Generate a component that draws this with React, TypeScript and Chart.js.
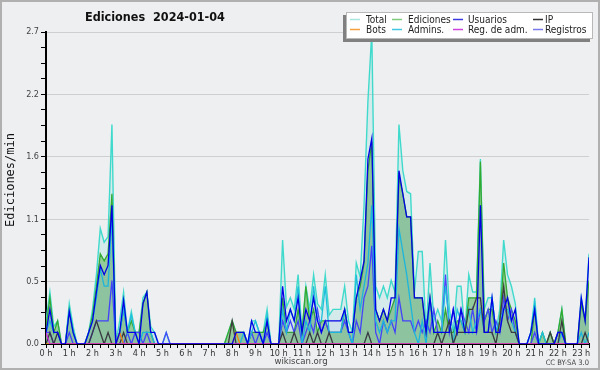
import React, { useEffect, useRef } from "react";
import { Chart, registerables } from "chart.js";

Chart.register(...registerables);

// ---------- data (10-minute slots, 0:00 .. 23:20) ----------
const hourLabels = [
  "0 h", "1 h", "2 h", "3 h", "4 h", "5 h", "6 h", "7 h", "8 h", "9 h", "10 h", "11 h",
  "12 h", "13 h", "14 h", "15 h", "16 h", "17 h", "18 h", "19 h", "20 h", "21 h", "22 h", "23 h",
];
const yTickValues = [0, 0.54, 1.08, 1.62, 2.16, 2.7];
const yTickLabels = ["0.0", "0.5", "1.1", "1.6", "2.2", "2.7"];
const seriesNames = ["Total", "Ediciones", "Usuarios", "IP", "Bots", "Admins.", "Reg. de adm.", "Registros"];

const total = [
  0.2, 0.45, 0.15, 0.2, 0, 0,
  0.35, 0.15, 0, 0, 0, 0.1,
  0.3, 0.6, 1.0, 0.88, 0.93, 1.9,
  0, 0.2, 0.45, 0.1, 0.28, 0.1,
  0.1, 0.4, 0.45, 0.15, 0.1, 0,
  0, 0.1, 0, 0, 0, 0,
  0, 0, 0, 0, 0, 0,
  0, 0, 0, 0, 0, 0.1,
  0.2, 0.1, 0.1, 0.1, 0, 0.2,
  0.2, 0.1, 0.1, 0.3, 0, 0,
  0, 0.9, 0.32, 0.4, 0.3, 0.6,
  0.1, 0.5, 0.3, 0.6, 0.35, 0.3,
  0.6, 0.25, 0.3, 0.3, 0.3, 0.5,
  0.2, 0.1, 0.7, 0.58, 1.2, 2.1,
  2.7, 0.5, 0.4, 0.5, 0.4, 0.55,
  0.45, 1.9, 1.5, 1.32, 1.3, 0.45,
  0.8, 0.8, 0.1, 0.7, 0.2, 0.3,
  0.2, 0.9, 0.3, 0.1, 0.5, 0.5,
  0.1, 0.6, 0.45, 0.45, 1.6, 0.3,
  0.4, 0.4, 0.1, 0.3, 0.9, 0.6,
  0.5, 0.35, 0, 0, 0, 0.1,
  0.4, 0, 0.1, 0, 0.1, 0,
  0.1, 0.3, 0, 0, 0, 0,
  0.4, 0.2, 0.78,
];
const ediciones = [
  0.15, 0.4, 0.1, 0.2, 0, 0,
  0.3, 0.1, 0, 0, 0, 0.1,
  0.25, 0.5, 0.78, 0.72, 0.78, 1.3,
  0, 0.1, 0.3, 0.1, 0.2, 0.1,
  0.1, 0.35, 0.45, 0.1, 0, 0,
  0, 0, 0, 0, 0, 0,
  0, 0, 0, 0, 0, 0,
  0, 0, 0, 0, 0, 0.1,
  0.2, 0.1, 0.1, 0.1, 0, 0.1,
  0.1, 0.1, 0.1, 0.2, 0, 0,
  0, 0.4, 0.1, 0.1, 0.1, 0.3,
  0.1, 0.5, 0.2, 0.3, 0.1, 0.2,
  0.2, 0.1, 0.1, 0.1, 0.1, 0.3,
  0.1, 0.1, 0.4, 0.5, 0.7, 1.5,
  1.75, 0.3, 0.2, 0.3, 0.2, 0.3,
  0.4, 1.45, 1.3, 1.1, 1.1, 0.4,
  0.4, 0.4, 0.1, 0.4, 0.1, 0.2,
  0.1, 0.3, 0.1, 0.1, 0.2, 0.2,
  0.1, 0.4, 0.4, 0.4, 1.58, 0.2,
  0.3, 0.3, 0.1, 0.2, 0.7, 0.4,
  0.3, 0.2, 0, 0, 0, 0,
  0.3, 0, 0.1, 0, 0.1, 0,
  0.1, 0.3, 0, 0, 0, 0,
  0.35, 0.2, 0.55,
];
const usuarios = [
  0.1, 0.3, 0.1, 0.1, 0, 0,
  0.28, 0.1, 0, 0, 0, 0.1,
  0.2, 0.45, 0.68, 0.6, 0.68, 1.2,
  0, 0.1, 0.38, 0.1, 0.1, 0.1,
  0, 0.35, 0.45, 0.1, 0.1, 0,
  0, 0, 0, 0, 0, 0,
  0, 0, 0, 0, 0, 0,
  0, 0, 0, 0, 0, 0,
  0, 0.1, 0.1, 0.1, 0, 0.2,
  0.1, 0.1, 0, 0.2, 0, 0,
  0, 0.5, 0.2, 0.3, 0.2, 0.4,
  0.1, 0.3, 0.2, 0.4, 0.2, 0.1,
  0.2, 0.2, 0.2, 0.2, 0.2, 0.3,
  0.1, 0.1, 0.4, 0.55, 0.72, 1.6,
  1.78, 0.3, 0.2, 0.3, 0.2, 0.4,
  0.4, 1.5, 1.3, 1.1, 1.1, 0.4,
  0.4, 0.4, 0.1, 0.4, 0.1, 0.1,
  0.1, 0.1, 0.1, 0.3, 0.1, 0.3,
  0.1, 0.1, 0.1, 0.1, 1.2, 0.1,
  0.1, 0.4, 0.1, 0.1, 0.3, 0.4,
  0.2, 0.3, 0, 0, 0, 0.1,
  0.3, 0, 0, 0, 0, 0,
  0.1, 0.1, 0, 0, 0, 0,
  0.4, 0.2, 0.75,
];
const ip = [
  0, 0.1, 0, 0.1, 0, 0,
  0, 0, 0, 0, 0, 0,
  0.1, 0.2, 0.1, 0, 0.1, 0,
  0, 0, 0.1, 0, 0, 0,
  0, 0, 0, 0, 0, 0,
  0, 0, 0, 0, 0, 0,
  0, 0, 0, 0, 0, 0,
  0, 0, 0, 0, 0, 0,
  0.2, 0, 0, 0, 0, 0,
  0, 0, 0, 0, 0, 0,
  0, 0.1, 0, 0, 0.1, 0,
  0, 0, 0.1, 0, 0.1, 0,
  0, 0.1, 0, 0, 0, 0,
  0, 0, 0, 0, 0, 0.1,
  0, 0, 0, 0, 0, 0,
  0, 0, 0, 0, 0, 0,
  0, 0, 0, 0, 0, 0.1,
  0, 0.1, 0.2, 0, 0.1, 0.1,
  0.1, 0.3, 0.3, 0.4, 0.4, 0.1,
  0.1, 0.1, 0, 0.2, 0.5, 0.2,
  0.1, 0.1, 0, 0, 0, 0,
  0, 0, 0, 0, 0.1, 0,
  0, 0.2, 0, 0, 0, 0,
  0, 0.1, 0,
];
const bots = [
  0, 0, 0, 0, 0, 0,
  0, 0, 0, 0, 0, 0,
  0, 0, 0, 0, 0, 0,
  0, 0.1, 0, 0, 0, 0,
  0, 0, 0, 0, 0, 0,
  0, 0, 0, 0, 0, 0,
  0, 0, 0, 0, 0, 0,
  0, 0, 0, 0, 0, 0,
  0, 0.1, 0, 0, 0, 0,
  0, 0, 0, 0, 0, 0,
  0, 0, 0, 0, 0, 0,
  0, 0, 0, 0, 0, 0,
  0, 0, 0, 0, 0, 0,
  0, 0, 0, 0, 0, 0,
  0, 0, 0, 0, 0, 0,
  0, 0, 0, 0, 0, 0,
  0, 0, 0, 0, 0, 0,
  0, 0, 0, 0, 0, 0,
  0, 0, 0, 0, 0, 0,
  0, 0, 0, 0, 0, 0,
  0, 0, 0, 0, 0, 0,
  0, 0, 0, 0, 0, 0,
  0, 0, 0, 0, 0, 0,
  0, 0, 0,
];
const admins = [
  0.1, 0.2, 0.1, 0.1, 0, 0,
  0.3, 0.1, 0, 0, 0, 0.1,
  0.2, 0.4, 0.65, 0.5, 0.5, 1.1,
  0, 0.1, 0.3, 0.1, 0.25, 0.1,
  0, 0.1, 0.1, 0.1, 0, 0,
  0, 0, 0, 0, 0, 0,
  0, 0, 0, 0, 0, 0,
  0, 0, 0, 0, 0, 0,
  0, 0, 0, 0.1, 0, 0.1,
  0.2, 0.1, 0, 0.25, 0, 0,
  0, 0.3, 0.1, 0.3, 0.2, 0.5,
  0, 0.2, 0.1, 0.5, 0.2, 0.2,
  0.5, 0.1, 0.1, 0.1, 0.1, 0.3,
  0.1, 0, 0.6, 0.3, 0.5, 0.7,
  1.2, 0.2, 0.1, 0.2, 0.1, 0.2,
  0.2, 1.0, 0.8, 0.6, 0.35, 0.1,
  0, 0.2, 0, 0.4, 0.1, 0.1,
  0.1, 0.5, 0.2, 0, 0.3, 0.2,
  0.1, 0.3, 0.1, 0.2, 0.3, 0.1,
  0.1, 0.4, 0.1, 0.2, 0.3, 0.3,
  0.2, 0.1, 0, 0, 0, 0.1,
  0.35, 0, 0.1, 0, 0, 0,
  0, 0.1, 0, 0, 0, 0,
  0.1, 0, 0.1,
];
const regAdm = [
  0.1, 0, 0, 0, 0, 0,
  0, 0, 0, 0, 0, 0,
  0, 0, 0, 0, 0, 0,
  0, 0, 0, 0, 0, 0,
  0, 0, 0, 0, 0, 0,
  0, 0, 0, 0, 0, 0,
  0, 0, 0, 0, 0, 0,
  0, 0, 0, 0, 0, 0,
  0, 0, 0, 0, 0, 0,
  0, 0, 0, 0, 0, 0,
  0, 0, 0, 0, 0, 0,
  0, 0, 0, 0, 0, 0,
  0, 0, 0, 0, 0, 0,
  0, 0, 0, 0, 0, 0,
  0, 0, 0, 0, 0, 0,
  0, 0, 0, 0, 0, 0,
  0, 0, 0, 0, 0, 0,
  0, 0, 0, 0, 0, 0,
  0, 0, 0, 0, 0, 0,
  0, 0, 0, 0, 0, 0,
  0, 0, 0, 0, 0, 0,
  0, 0, 0, 0, 0, 0,
  0, 0, 0, 0, 0, 0,
  0, 0, 0,
];
const registros = [
  0.1, 0.1, 0, 0, 0, 0,
  0.1, 0, 0, 0, 0, 0,
  0.1, 0.2, 0.2, 0.2, 0.2, 0.55,
  0, 0.1, 0, 0.1, 0, 0.1,
  0.1, 0, 0.1, 0, 0, 0,
  0, 0.1, 0, 0, 0, 0,
  0, 0, 0, 0, 0, 0,
  0, 0, 0, 0, 0, 0,
  0, 0, 0, 0, 0, 0.1,
  0, 0.1, 0, 0.1, 0, 0,
  0, 0.2, 0.1, 0.2, 0.1, 0.2,
  0, 0.1, 0.2, 0.1, 0.3, 0.1,
  0.2, 0.1, 0.1, 0.1, 0.1, 0.2,
  0.1, 0, 0.2, 0.1, 0.4, 0.5,
  0.85, 0.1, 0, 0.2, 0.1, 0.2,
  0.1, 0.4, 0.2, 0.2, 0.2, 0.1,
  0.2, 0.1, 0.2, 0.1, 0.3, 0.1,
  0.1, 0.6, 0.1, 0.3, 0.1, 0.3,
  0.2, 0.1, 0.3, 0.1, 0.3, 0.2,
  0.3, 0.1, 0.2, 0.1, 0.4, 0.2,
  0.3, 0.1, 0, 0, 0, 0,
  0.1, 0, 0, 0, 0, 0,
  0.1, 0.1, 0, 0, 0, 0,
  0, 0, 0,
];

// ---------- styling ----------
const FONT = "'DejaVu Sans Condensed', 'DejaVu Sans', sans-serif";
const SLOTS_PER_HOUR = 6;
const LAST_SLOT = total.length - 1;

const seriesValues = [total, ediciones, usuarios, ip, bots, admins, regAdm, registros];
const lineColors = [
  "rgb(64,218,204)", "rgb(50,170,50)", "rgb(0,0,230)", "rgb(60,60,60)",
  "rgb(255,140,0)", "rgb(30,190,220)", "rgb(210,40,220)", "rgb(70,70,250)",
];
const legendColors = [
  "#a8e6e0", "#7fcc7f", "#3a3ae0", "#333333",
  "#f5a040", "#40c8e0", "#cc44dd", "#7a7aee",
];
const fills: (string | false)[] = [
  "rgba(64,214,200,0.14)", "rgba(140,200,146,0.9)", "rgba(0,0,255,0.04)", false,
  false, false, false, false,
];
const drawOrder = [8, 7, 1, 4, 3, 5, 2, 6];

function yMinorTicks(): number[] {
  const out: number[] = [];
  for (let k = 0; k < yTickValues.length - 1; k++) {
    const a = yTickValues[k];
    const b = yTickValues[k + 1];
    for (let j = 0; j < 4; j++) out.push(a + ((b - a) * j) / 4);
  }
  out.push(yTickValues[yTickValues.length - 1]);
  return out;
}
function majorIndex(v: number): number {
  return yTickValues.findIndex((t) => Math.abs(t - v) < 1e-6);
}

const decorPlugin = {
  id: "decor",
  beforeDraw(chart: any) {
    const { ctx, width, height } = chart;
    ctx.save();
    ctx.fillStyle = "#eeeff1";
    ctx.fillRect(0, 0, width, height);
    ctx.strokeStyle = "#b0b0b0";
    ctx.lineWidth = 2;
    ctx.strokeRect(1, 1, width - 2, height - 2);
    ctx.restore();
  },
  afterDraw(chart: any) {
    const { ctx } = chart;
    ctx.save();
    // title
    ctx.fillStyle = "#111";
    ctx.font = `bold 12.5px ${FONT}`;
    ctx.textAlign = "left";
    ctx.textBaseline = "alphabetic";
    ctx.fillText("Ediciones  2024-01-04", 85, 21);

    // y title
    ctx.save();
    ctx.translate(14, 180);
    ctx.rotate(-Math.PI / 2);
    ctx.font = `12px 'DejaVu Sans Mono', monospace`;
    ctx.textAlign = "center";
    ctx.textBaseline = "alphabetic";
    ctx.fillStyle = "#111";
    ctx.fillText("Ediciones/min", 0, 0);
    ctx.restore();

    // footer
    ctx.font = `9.5px ${FONT}`;
    ctx.fillStyle = "#444";
    ctx.textAlign = "center";
    ctx.fillText("wikiscan.org", 301, 364);
    ctx.font = `7.5px ${FONT}`;
    ctx.textAlign = "right";
    ctx.fillText("CC BY-SA 3.0", 589, 365);

    // legend
    const bx = 346, by = 12, bw = 247, bh = 27;
    ctx.fillStyle = "#808080";
    ctx.fillRect(bx - 3, by + 3, bw, bh);
    ctx.fillStyle = "#ffffff";
    ctx.fillRect(bx, by, bw, bh);
    ctx.strokeStyle = "#b8b8b8";
    ctx.lineWidth = 1;
    ctx.strokeRect(bx + 0.5, by + 0.5, bw - 1, bh - 1);
    const swatchX = [350, 392, 453, 533];
    const textX = [366, 408, 468, 545];
    const rowY = [19.5, 29.5];
    ctx.font = `10px ${FONT}`;
    ctx.textAlign = "left";
    ctx.textBaseline = "middle";
    chart.data.datasets.forEach((ds: any, i: number) => {
      const col = i % 4;
      const row = Math.floor(i / 4);
      const y = rowY[row];
      ctx.strokeStyle = ds.legendColor;
      ctx.lineWidth = 1.5;
      ctx.beginPath();
      ctx.moveTo(swatchX[col], y);
      ctx.lineTo(swatchX[col] + 10, y);
      ctx.stroke();
      ctx.fillStyle = "#222";
      ctx.fillText(ds.label, textX[col], y + 0.5);
    });
    ctx.restore();
  },
};

export default function App() {
  const ref = useRef<HTMLCanvasElement | null>(null);

  useEffect(() => {
    if (!ref.current) return;
    const datasets = seriesNames.map((name, s) => ({
      label: name,
      data: seriesValues[s].map((v, i) => ({ x: i, y: v })),
      borderColor: lineColors[s],
      backgroundColor: fills[s] || "rgba(0,0,0,0)",
      fill: fills[s] ? "origin" : false,
      borderWidth: s === 0 ? 1.4 : 1.3,
      pointRadius: 0,
      tension: 0,
      order: drawOrder[s],
      legendColor: legendColors[s],
    }));

    const chart = new Chart(ref.current, {
      type: "line",
      data: { datasets } as any,
      plugins: [decorPlugin],
      options: {
        responsive: false,
        animation: false,
        devicePixelRatio: 1,
        layout: { padding: { top: 32, right: 11, bottom: 0, left: 0 } },
        plugins: {
          legend: { display: false },
          tooltip: { enabled: false },
          title: { display: false },
        },
        scales: {
          x: {
            type: "linear",
            min: 0,
            max: LAST_SLOT,
            afterFit: (s: any) => {
              s.height = 26;
            },
            afterBuildTicks: (s: any) => {
              const t: { value: number }[] = [];
              for (let v = 0; v <= LAST_SLOT; v += 2) t.push({ value: v });
              s.ticks = t;
            },
            ticks: {
              autoSkip: false,
              maxRotation: 0,
              minRotation: 0,
              padding: 0,
              color: "#333",
              font: { family: FONT, size: 9 },
              callback: (v: any) => {
                const n = Number(v);
                return n % SLOTS_PER_HOUR === 0 ? hourLabels[n / SLOTS_PER_HOUR] : "";
              },
            },
            grid: { drawOnChartArea: false, tickColor: "#000", tickLength: 4, lineWidth: 1 },
            border: { color: "#000", width: 2 },
          },
          y: {
            type: "linear",
            min: 0,
            max: 2.7,
            afterFit: (s: any) => {
              s.width = 46;
            },
            afterBuildTicks: (s: any) => {
              s.ticks = yMinorTicks().map((v) => ({ value: v }));
            },
            ticks: {
              autoSkip: false,
              padding: 2,
              color: "#444",
              font: { family: FONT, size: 9 },
              callback: (v: any) => {
                const k = majorIndex(Number(v));
                return k >= 0 ? yTickLabels[k] : "";
              },
            },
            grid: {
              color: (c: any) => (c.tick && majorIndex(c.tick.value) > 0 ? "#cfcfcf" : "rgba(0,0,0,0)"),
              tickColor: "#000",
              tickLength: 5,
              lineWidth: 1,
            },
            border: { color: "#000", width: 2 },
          },
        },
      } as any,
    });
    return () => chart.destroy();
  }, []);

  return (
    <div style={{ position: "fixed", left: 0, top: 0, width: 600, height: 370 }}>
      <canvas ref={ref} width={600} height={370} style={{ display: "block" }} />
    </div>
  );
}
